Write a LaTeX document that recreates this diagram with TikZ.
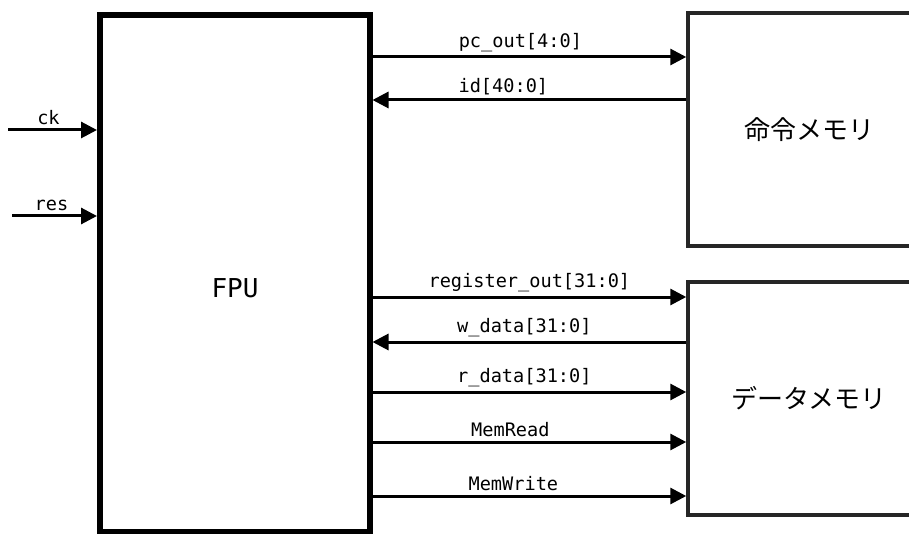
\documentclass[tikz,border=0pt]{standalone}
\usepackage{fontspec}
\newfontfamily\sigfont{DejaVu Sans Mono}
\newfontfamily\jpfont{Noto Sans CJK JP}
\usetikzlibrary{arrows.meta,positioning,calc}

\begin{document}
\begin{tikzpicture}[
    x=1pt, y=-1pt,
    cpu/.style={draw, line width=5.5pt, minimum width=270pt, minimum height=517pt, inner sep=0pt},
    mem/.style={draw=black!85, line width=3.5pt, minimum width=242pt, minimum height=233pt, font=\jpfont\fontsize{26}{28}\selectfont},
    sig/.style={-{Triangle[length=16pt, width=16pt]}, line width=3pt},
    lbl/.style={font=\sigfont\fontsize{18.6}{20}\selectfont, inner sep=4pt},
]
\useasboundingbox (0,0) rectangle (909,534);
\clip (0,0) rectangle (909,534);

% --- Blocks ---
\node[cpu] (fpu)  at (234.75,273.5) {};
\node[lbl, font=\sigfont\fontsize{26}{28}\selectfont] (fpuname) at (235,288) {FPU};
\node[mem] (imem) at (809,129.5) {命令メモリ};
\node[mem] (dmem) at (809,398.5) {データメモリ};

% --- Signal levels ---
\coordinate (ckin)  at (8,130);
\coordinate (resin) at (12,216);
\coordinate (pcy) at (0,57);
\coordinate (idy) at (0,100);
\coordinate (rgy) at (0,297);
\coordinate (wdy) at (0,342);
\coordinate (rdy) at (0,392);
\coordinate (mry) at (0,442);
\coordinate (mwy) at (0,496);

% --- Inputs ---
\draw[sig] (ckin) -- node[lbl, above, xshift=-4pt] {ck} (fpu.west |- ckin);
\draw[sig] (resin) -- node[lbl, above, xshift=-3pt] {res} (fpu.west |- resin);

% --- FPU <-> instruction memory ---
\draw[sig] (fpu.east |- pcy) -- node[lbl, above, xshift=-9pt] {pc\_out[4:0]} (imem.west |- pcy);
\draw[sig] (imem.west |- idy) -- node[lbl, above, xshift=-26pt] {id[40:0]} (fpu.east |- idy);

% --- FPU <-> data memory ---
\draw[sig] (fpu.east |- rgy) -- node[lbl, above] {register\_out[31:0]} (dmem.west |- rgy);
\draw[sig] (dmem.west |- wdy) -- node[lbl, above, xshift=-5pt] {w\_data[31:0]} (fpu.east |- wdy);
\draw[sig] (fpu.east |- rdy) -- node[lbl, above, xshift=-5pt] {r\_data[31:0]} (dmem.west |- rdy);
\draw[sig] (fpu.east |- mry) -- node[lbl, above, xshift=-19pt] {MemRead} (dmem.west |- mry);
\draw[sig] (fpu.east |- mwy) -- node[lbl, above, xshift=-16pt] {MemWrite} (dmem.west |- mwy);
\end{tikzpicture}
\end{document}
